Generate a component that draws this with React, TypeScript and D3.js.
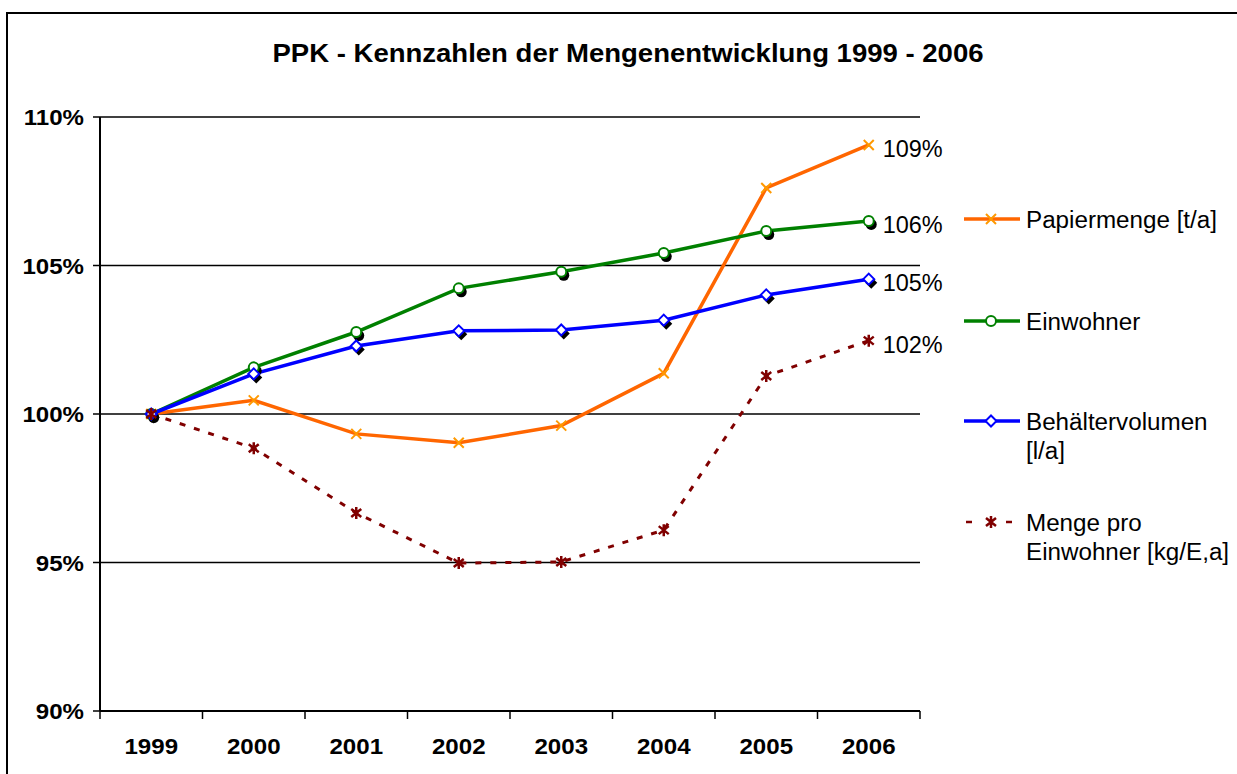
import React from 'react';
import * as d3 from 'd3';

const years = ['1999', '2000', '2001', '2002', '2003', '2004', '2005', '2006'];
const papiermenge = [100, 100.46, 99.33, 99.03, 99.61, 101.37, 107.61, 109.06];
const einwohner = [100, 101.57, 102.76, 104.23, 104.79, 105.42, 106.16, 106.5];
const behaelter = [100, 101.35, 102.29, 102.8, 102.83, 103.16, 104.01, 104.54];
const mengeProEW = [100, 98.85, 96.67, 94.98, 95.02, 96.09, 101.28, 102.47];
const yTicks = [90, 95, 100, 105, 110];
const endLabels = ['109%', '106%', '105%', '102%'];

const series = [
  { name: ['Papiermenge [t/a]'], values: papiermenge, color: '#FF6600', marker: 'x', dashed: false },
  { name: ['Einwohner'], values: einwohner, color: '#008000', marker: 'circle', dashed: false },
  { name: ['Behältervolumen', '[l/a]'], values: behaelter, color: '#0000FF', marker: 'diamond', dashed: false },
  { name: ['Menge pro', 'Einwohner [kg/E,a]'], values: mengeProEW, color: '#800000', marker: 'star', dashed: true },
];

const Width = 1237;
const Height = 774;
const plot = { left: 100, right: 920, top: 117, bottom: 711 };

// text that is a bit wider than the font, like the original export
const SText = ({ x, y, sx = 1, anchor = 'start', children, ...rest }) => (
  <text transform={`translate(${x},${y}) scale(${sx},1)`} textAnchor={anchor} {...rest}>{children}</text>
);

const Marker = ({ type, x, y, color, shadow }) => {
  if (type === 'x') {
    return (
      <path d={`M${x - 5},${y - 5}L${x + 5},${y + 5}M${x - 5},${y + 5}L${x + 5},${y - 5}`} stroke="#FF9900" strokeWidth={2} />
    );
  }
  if (type === 'star') {
    return (
      <path d={`M${x - 5},${y - 4}L${x + 5},${y + 4}M${x - 5},${y + 4}L${x + 5},${y - 4}M${x},${y - 6}L${x},${y + 6}`} stroke={color} strokeWidth={2.5} />
    );
  }
  if (type === 'circle') {
    return (
      <g>
        {shadow && <circle cx={x + 2.5} cy={y + 3.5} r={5.5} fill="#000" />}
        <circle cx={x} cy={y} r={5} fill="#fff" stroke={color} strokeWidth={2} />
      </g>
    );
  }
  const dia = (cx, cy, s) => `M${cx},${cy - s}L${cx + s},${cy}L${cx},${cy + s}L${cx - s},${cy}Z`;
  return (
    <g>
      {shadow && <path d={dia(x + 2.5, y + 3.5, 6)} fill="#000" />}
      <path d={dia(x, y, 5.5)} fill="#fff" stroke={color} strokeWidth={2} />
    </g>
  );
};

const App = () => {
  const xScale = d3.scaleBand().domain(years).range([plot.left, plot.right]);
  const yScale = d3.scaleLinear().domain([90, 110]).range([plot.bottom, plot.top]);
  const cx = (d) => xScale(d) + xScale.bandwidth() / 2;

  const line = d3.line()
    .x((d, i) => cx(years[i]))
    .y((d) => yScale(d));

  const boundaries = years.map((d) => xScale(d)).concat([plot.right]);
  const legendY = [219, 321, 421, 522];

  return (
    <svg width={Width} height={Height} style={{ position: 'absolute', left: 0, top: 0, fontFamily: 'Liberation Sans, Arial, sans-serif' }}>
      <rect x={0} y={0} width={Width} height={Height} fill="#fff" />
      <rect x={7} y={13} width={Width + 20} height={Height + 20} fill="none" stroke="#000" strokeWidth={2} />

      <SText x={628} y={62} sx={1.08} anchor="middle" fontWeight="bold" fontSize={25.5}>
        PPK - Kennzahlen der Mengenentwicklung 1999 - 2006
      </SText>

      {/* gridlines + y axis */}
      {yTicks.map((t) => (
        <g key={t}>
          <line x1={93} x2={plot.right} y1={yScale(t)} y2={yScale(t)} stroke="#000" strokeWidth={1.5} />
          <SText x={84} y={yScale(t) + 8} sx={1.07} anchor="end" fontWeight="bold" fontSize={22.5}>{t}%</SText>
        </g>
      ))}
      <line x1={plot.left} x2={plot.left} y1={plot.top} y2={plot.bottom} stroke="#000" strokeWidth={2} />
      <line x1={plot.left} x2={plot.right} y1={plot.bottom} y2={plot.bottom} stroke="#000" strokeWidth={2} />
      {boundaries.map((b, i) => (
        <line key={i} x1={b} x2={b} y1={plot.bottom} y2={plot.bottom + 8} stroke="#000" strokeWidth={1.5} />
      ))}
      {years.map((y) => (
        <SText key={y} x={cx(y)} y={754} sx={1.07} anchor="middle" fontWeight="bold" fontSize={22.5}>{y}</SText>
      ))}

      {/* series */}
      {series.map((s) => (
        <path key={s.name[0]} d={line(s.values)} fill="none" stroke={s.color}
          strokeWidth={s.dashed ? 3 : 3.5} strokeDasharray={s.dashed ? '6,9' : null} />
      ))}
      {series.map((s) => (
        <g key={s.name[0] + 'm'}>
          {s.values.map((v, i) => (
            <Marker key={i} type={s.marker} x={cx(years[i])} y={yScale(v)} color={s.color} shadow={true} />
          ))}
        </g>
      ))}
      {series.map((s, k) => (
        <SText key={k} x={cx(years[years.length - 1]) + 14} y={yScale(s.values[s.values.length - 1]) + 12}
          sx={1.02} fontSize={23}>{endLabels[k]}</SText>
      ))}

      {/* legend */}
      {series.map((s, k) => (
        <g key={k} transform={`translate(0, ${legendY[k]})`}>
          {s.dashed ? (
            <g stroke={s.color} strokeWidth={2.5}>
              <line x1={966} x2={972} y1={0} y2={0} />
              <line x1={1006} x2={1012} y1={0} y2={0} />
            </g>
          ) : (
            <line x1={964} x2={1020} y1={0} y2={0} stroke={s.color} strokeWidth={3.5} />
          )}
          <Marker type={s.marker} x={991} y={0} color={s.color} shadow={false} />
          {s.name.map((n, j) => (
            <SText key={j} x={1026} y={j * 29 + 8.5} sx={1.03} fontSize={23.5}>{n}</SText>
          ))}
        </g>
      ))}
    </svg>
  );
};

export default App;
